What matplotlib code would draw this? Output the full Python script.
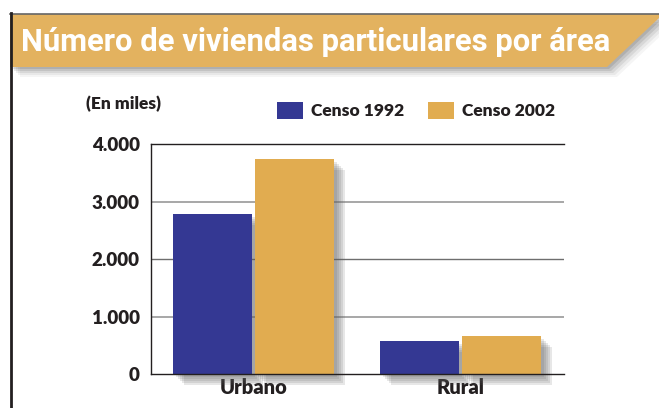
import numpy as np
import matplotlib.pyplot as plt
from matplotlib.patches import Polygon
import matplotlib.patheffects as pe

# Data (en miles)
categories = ["Urbano", "Rural"]
censo_1992 = [2790, 580]
censo_2002 = [3745, 665]
series_labels = ["Censo 1992", "Censo 2002"]
yticks = [0, 1000, 2000, 3000, 4000]
ytick_labels = ["0", "1.000", "2.000", "3.000", "4.000"]

blue = "#343893"
gold = "#E1AC50"
banner = "#E3B25F"
dark = "#231F20"

plt.rcParams["font.family"] = ["Lato", "DejaVu Sans"]

W, H = 659, 408
fig = plt.figure(figsize=(W / 100, H / 100), dpi=100)

# overlay in pixel coordinates for the frame and banner
bg = fig.add_axes([0, 0, 1, 1])
bg.set_xlim(0, W)
bg.set_ylim(H, 0)
bg.axis("off")

banner_pts = np.array([(10, 14), (659, 14), (659, 18), (607, 67), (10, 67)])
for d, a in [(10, 0.04), (8, 0.05), (6, 0.07), (4, 0.09), (2, 0.1)]:
    bg.add_patch(Polygon(banner_pts + [d, d], closed=True, fc="black", ec="none", alpha=a))
bg.add_patch(Polygon(banner_pts, closed=True, fc=banner, ec="none"))
bg.plot([10, 659], [13.5, 13.5], color="#666666", lw=1.2)
bg.plot([10.5, 10.5], [13, H], color=dark, lw=2)
bg.text(21, 42, "Número de viviendas particulares por área", color="white",
        fontsize=22.3, fontweight="bold", va="center", ha="left",
        family=["Roboto", "DejaVu Sans"])
bg.text(86, 104, "(En miles)", fontsize=12.5, fontweight="heavy", color=dark, va="center")

# main chart
ax = fig.add_axes([151 / W, (H - 374.3) / H, 413 / W, 230 / H])
x = np.arange(len(categories))
width = 0.382
off = 0.198

shadow = [pe.SimplePatchShadow(offset=(o, -o), shadow_rgbFace="#606060", alpha=0.15)
          for o in (2, 3.5, 5, 6.5, 8)] + [pe.Normal()]
b1 = ax.bar(x - off, censo_1992, width, color=blue, label=series_labels[0], zorder=3)
b2 = ax.bar(x + off, censo_2002, width, color=gold, label=series_labels[1], zorder=3)
for bar in list(b1) + list(b2):
    bar.set_path_effects(shadow)
    bar.set_clip_on(False)

for v in [1000, 3000]:
    ax.axhline(v, color="#A0A0A0", lw=1.3, zorder=1)
ax.axhline(2000, color="#6E6E6E", lw=1, zorder=1)

ax.set_xlim(-0.495, 1.5)
ax.set_ylim(0, 4000)
ax.set_yticks(yticks)
ax.set_yticklabels(ytick_labels)
ax.set_xticks(x)
ax.set_xticklabels(categories)
ax.tick_params(axis="y", length=0, labelsize=13.5, colors=dark, pad=8)
ax.tick_params(axis="x", length=0, labelsize=14.5, colors=dark, pad=3)
for lab in ax.get_xticklabels() + ax.get_yticklabels():
    lab.set_fontweight("heavy")
ax.spines["right"].set_visible(False)
for s in ["left", "top", "bottom"]:
    ax.spines[s].set_color(dark)
    ax.spines[s].set_linewidth(1)
    ax.spines[s].set_zorder(4)

leg = ax.legend(loc="lower left", bbox_to_anchor=(126 / 413, 1.11), ncol=2, frameon=False,
                handlelength=1.5, handleheight=1.15, handletextpad=0.46, columnspacing=1.38,
                borderaxespad=0, borderpad=0, prop={"weight": "heavy", "size": 12.5})
for t in leg.get_texts():
    t.set_color(dark)
for h in leg.legend_handles:
    h.set_path_effects([pe.Normal()])

fig.savefig("out.png", dpi=100)
